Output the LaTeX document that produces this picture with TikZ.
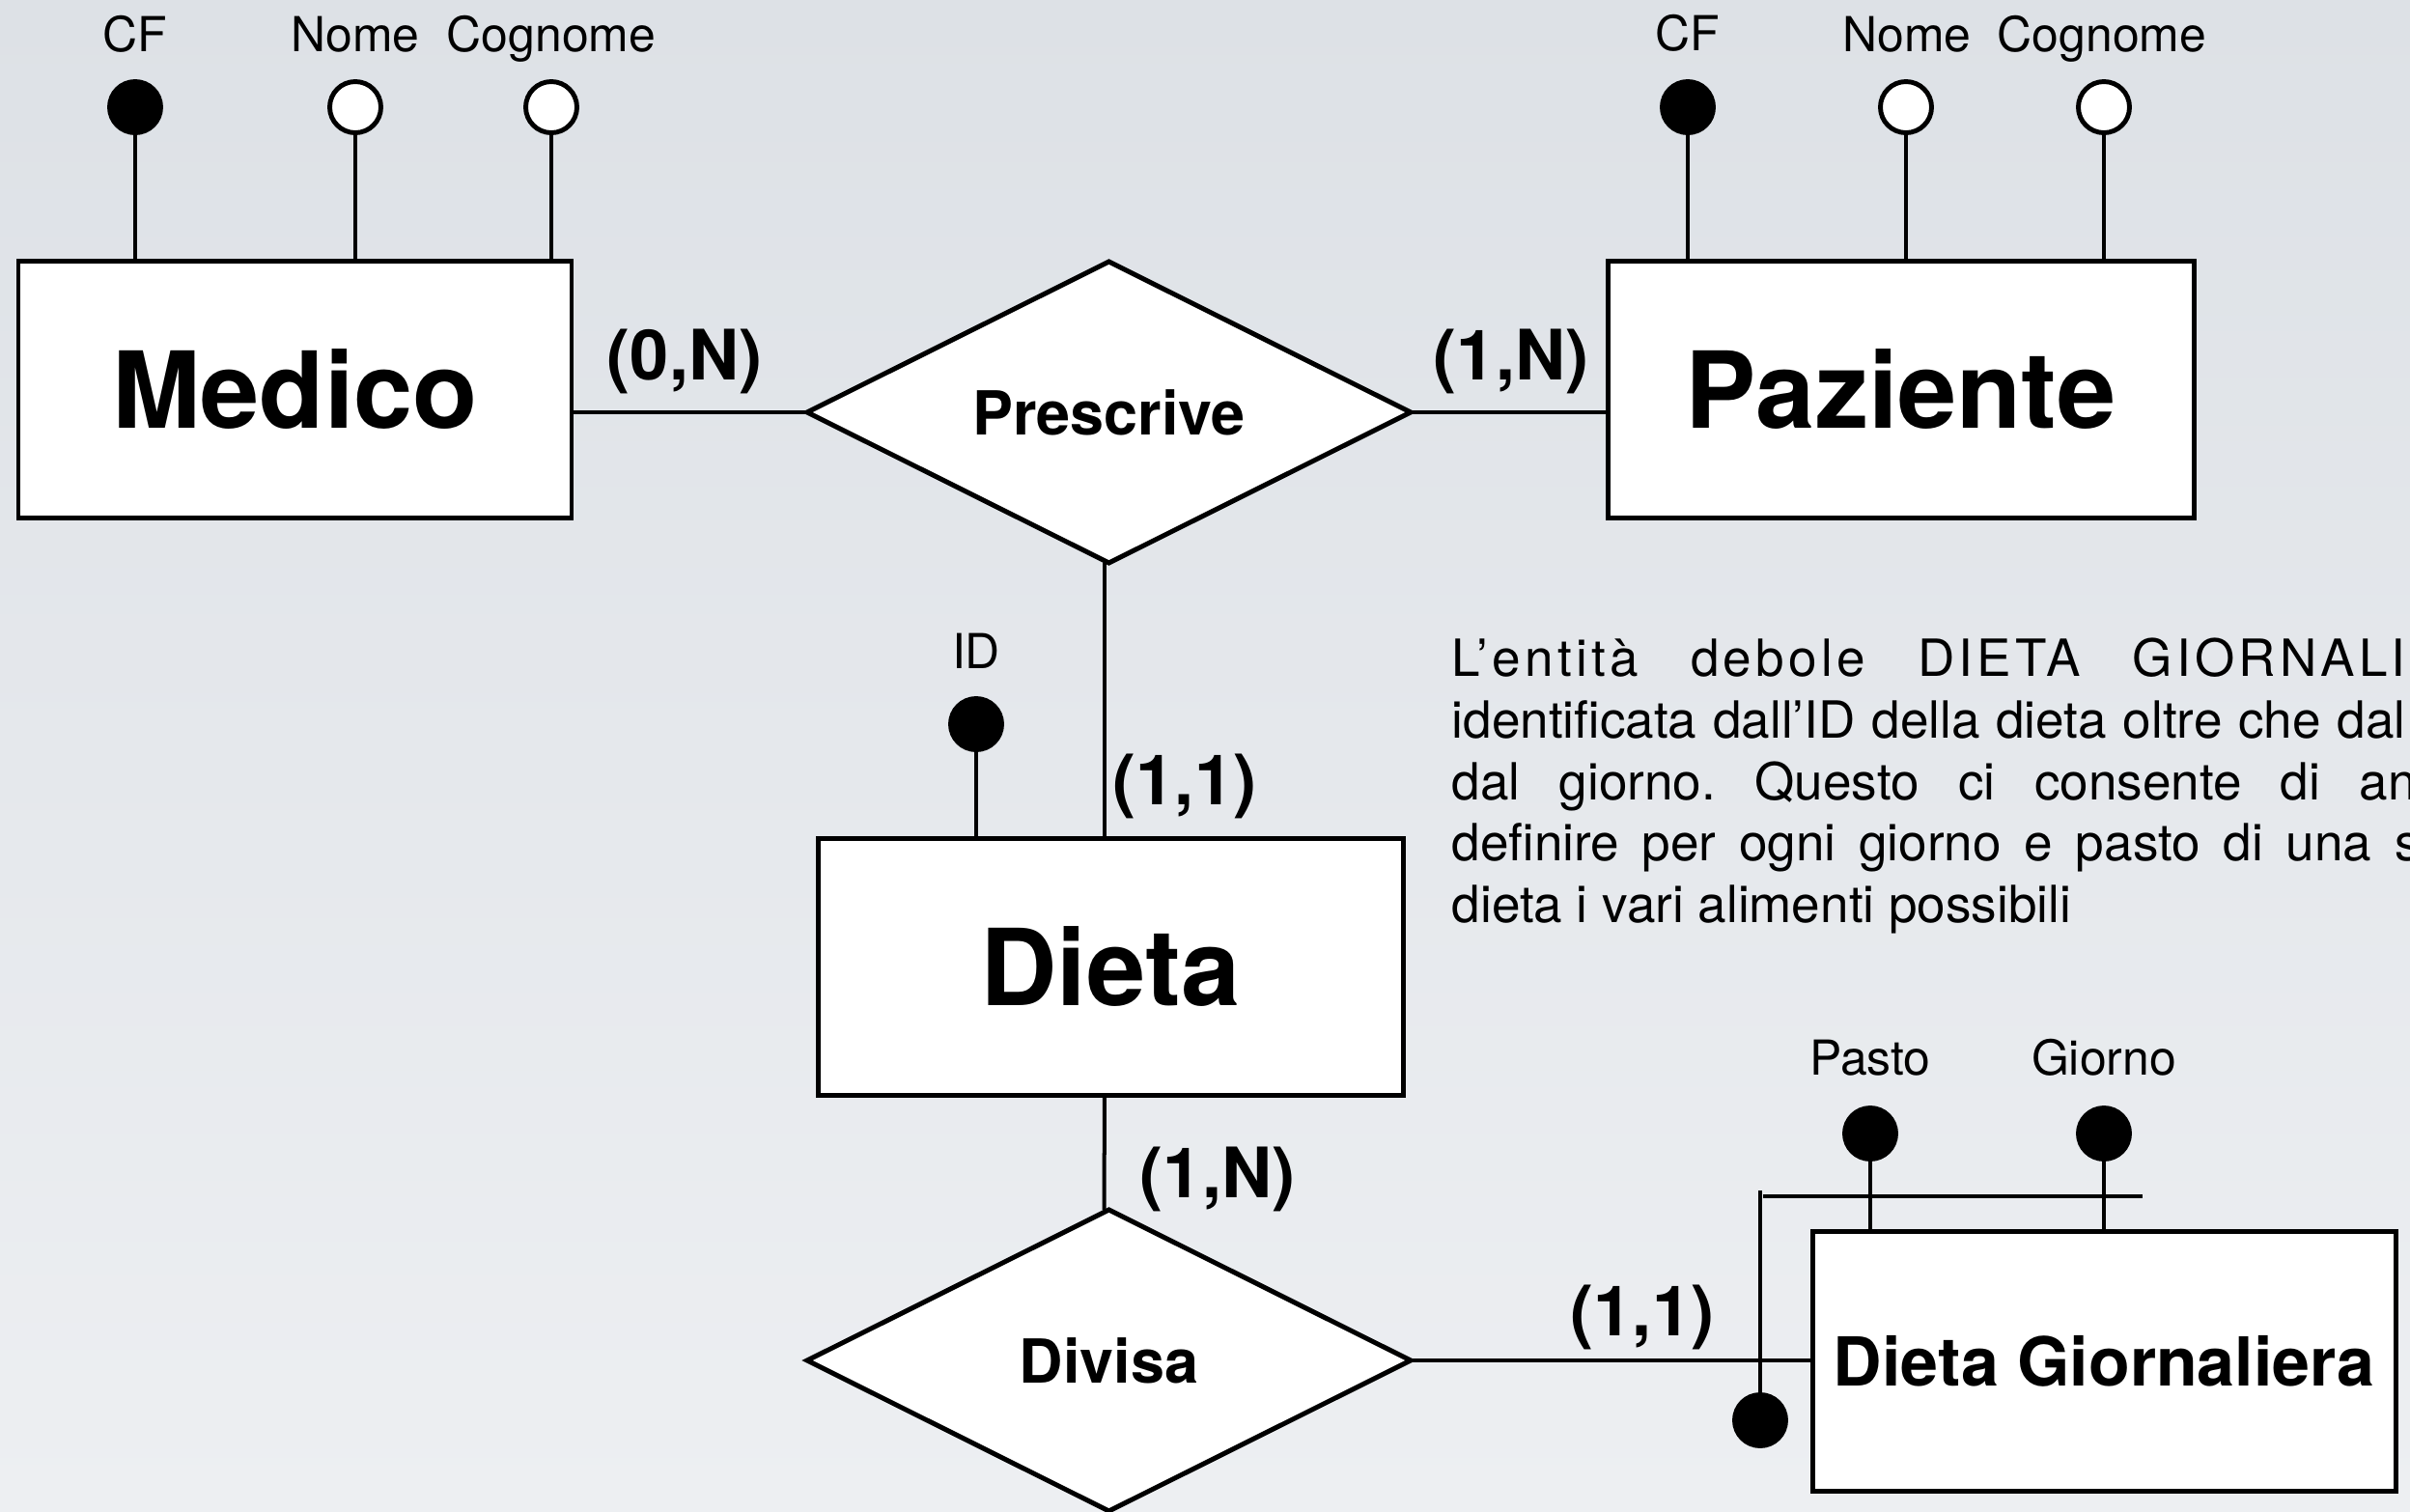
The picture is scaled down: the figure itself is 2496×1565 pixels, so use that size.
\documentclass[tikz,border=0pt]{standalone}
\usepackage{fontspec}
\setmainfont{TeX Gyre Heros}
\usetikzlibrary{shapes.geometric}
\definecolor{bgtop}{RGB}{221,225,230}
\definecolor{bgbot}{RGB}{237,239,242}
\frenchspacing
\begin{document}
\begin{tikzpicture}[x=0.1mm,y=-0.1mm,
  entity/.style={draw, line width=1.42pt, fill=white, inner sep=0pt, outer sep=0pt, minimum height=26.6mm, font=\fontsize{31.3}{36}\selectfont\bfseries},
  relship/.style={diamond, aspect=2, draw, line width=1.42pt, fill=white, inner sep=0pt, outer sep=0pt, minimum width=62.5mm, minimum height=31.2mm, font=\fontsize{17.9}{21}\selectfont\bfseries},
  keyattr/.style={circle, fill=black, draw=black, line width=1.4pt, minimum size=5.3mm, inner sep=0pt, outer sep=0pt},
  attr/.style={circle, fill=white, draw=black, line width=1.4pt, minimum size=5.3mm, inner sep=0pt, outer sep=0pt},
  attrlabel/.style={anchor=base, inner sep=0pt, font=\fontsize{14.2}{17}\selectfont},
  card/.style={anchor=base, inner sep=0pt, font=\fontsize{20.5}{24}\selectfont\bfseries},
  link/.style={line width=1.14pt},
  bar/.style={line width=1.4pt},
  para/.style={anchor=base west, inner sep=0pt, font=\fontsize{15.1}{18}\selectfont}
]
\useasboundingbox (0,0) rectangle (2496,1565);
\fill[top color=bgtop, bottom color=bgbot] (0,0) rectangle (2496,1565);

% entities
\node[entity, minimum width=57.3mm] (medico) at (305.5,403.5) {Medico};
\node[entity, minimum width=60.7mm] (paziente) at (1968.5,403.5) {Paziente};
\node[entity, minimum width=60.6mm] (dieta) at (1150,1001) {Dieta};
\node[entity, minimum width=60.4mm, minimum height=26.9mm, font=\fontsize{19.9}{23}\selectfont\bfseries] (dietag) at (2179,1409.5) {Dieta Giornaliera};

% relationships
\node[relship] (prescrive) at (1148.5,427) {Prescrive};
\node[relship] (divisa) at (1148.5,1409) {Divisa};

% attributes Medico
\node[keyattr] (mcf) at (140,111) {};
\node[attr] (mnome) at (368,111) {};
\node[attr] (mcogn) at (571,111) {};
\node[attrlabel] (lmcf) at (140,53) {CF};
\node[attrlabel] (lmnome) at (368,53) {Nome};
\node[attrlabel] (lmcogn) at (571,53) {Cognome};

% attributes Paziente
\node[keyattr] (pcf) at (1748,111) {};
\node[attr] (pnome) at (1974,111) {};
\node[attr] (pcogn) at (2179,111) {};
\node[attrlabel] (lpcf) at (1748,52) {CF};
\node[attrlabel] (lpnome) at (1975,53) {Nome};
\node[attrlabel] (lpcogn) at (2177,53) {Cognome};

% attribute Dieta
\node[keyattr] (did) at (1011,750) {};
\node[attrlabel] (ldid) at (1011,692) {ID};

% attributes Dieta Giornaliera
\node[keyattr] (gpasto) at (1937,1174) {};
\node[keyattr] (ggiorno) at (2179,1174) {};
\node[attrlabel] (lgpasto) at (1937,1113) {Pasto};
\node[attrlabel] (lggiorno) at (2179,1113) {Giorno};
\node[keyattr] (gext) at (1823,1471) {};
\coordinate (exttop) at (1823,1233);
\coordinate (barL) at (1826,1239);
\coordinate (barR) at (2219,1239);

% attribute stems
\draw[link] (mcf.south) -- (mcf.south |- medico.north);
\draw[link] (mnome.south) -- (mnome.south |- medico.north);
\draw[link] (mcogn.south) -- (mcogn.south |- medico.north);
\draw[link] (pcf.south) -- (pcf.south |- paziente.north);
\draw[link] (pnome.south) -- (pnome.south |- paziente.north);
\draw[link] (pcogn.south) -- (pcogn.south |- paziente.north);
\draw[link] (did.south) -- (did.south |- dieta.north);
\draw[link] (gpasto.south) -- (gpasto.south |- dietag.north);
\draw[link] (ggiorno.south) -- (ggiorno.south |- dietag.north);
\draw[link] (gext.north) -- (exttop);
\draw[bar] (barL) -- (barR);

% relationship connectors
\draw[link] (prescrive.west -| medico.east) -- (prescrive.west);
\draw[link] (prescrive.east) -- (prescrive.east -| paziente.west);
\draw[link] ([xshift=-0.5mm]prescrive.south) -- ([xshift=-0.5mm]prescrive.south |- dieta.north);
\draw[link] ([xshift=-0.6mm]dieta.south) -- ([xshift=-0.5mm]divisa.north);
\draw[link] (divisa.east) -- (divisa.east -| dietag.west);

% cardinalities
\node[card] (c1) at (709,393) {(0,N)};
\node[card] (c2) at (1565,393) {(1,N)};
\node[card] (c3) at (1227,833) {(1,1)};
\node[card] (c4) at (1261,1240) {(1,N)};
\node[card] (c5) at (1701,1383) {(1,1)};

% note
\node[para] (p1) at (1503,700) {\makebox[98.8mm][s]{\addfontfeature{LetterSpace=8}L’entità debole DIETA GIORNALI}};
\node[para] (p2) at (1503,764) {\makebox[98.8mm][s]{identificata dall’ID della dieta oltre che dal}};
\node[para] (p3) at (1503,828) {\makebox[99.9mm][s]{dal giorno. Questo ci consente di an}};
\node[para] (p4) at (1503,891) {\makebox[100.3mm][s]{definire per ogni giorno e pasto di una s}};
\node[para] (p5) at (1503,955) {dieta i vari alimenti possibili};
\end{tikzpicture}
\end{document}
